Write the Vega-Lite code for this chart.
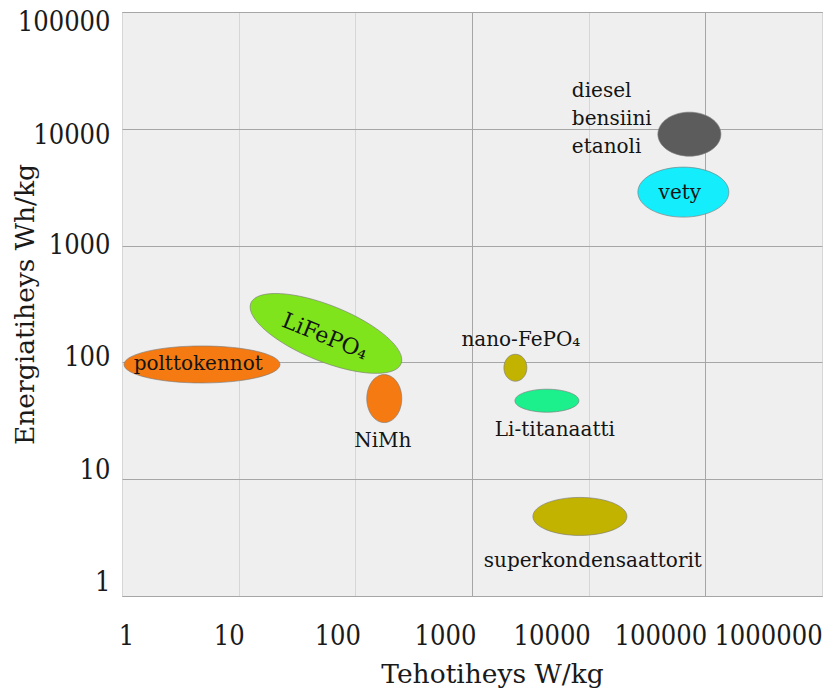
{
  "$schema": "https://vega.github.io/schema/vega-lite/v6.json",
  "width": 700,
  "height": 584,
  "autosize": "none",
  "padding": {"left": 122, "top": 12, "right": 7, "bottom": 95},
  "background": "white",
  "config": {
    "view": {"fill": "#efefef", "stroke": "#8f8f8f", "strokeWidth": 1},
    "font": "DejaVu Serif"
  },
  "datasets": {
    "regions": [
      {"name": "LiFePO4", "power": 56, "energy": 177},
      {"name": "polttokennot", "power": 4.85, "energy": 96},
      {"name": "NiMh", "power": 177, "energy": 49},
      {"name": "nano-FePO4", "power": 2354, "energy": 90},
      {"name": "Li-titanaatti", "power": 4385, "energy": 47},
      {"name": "superkondensaattorit", "power": 8410, "energy": 4.8},
      {"name": "diesel/bensiini/etanoli", "power": 73000, "energy": 9000},
      {"name": "vety", "power": 64800, "energy": 2870}
    ],
    "centerLabels": [
      {"label": "polttokennot", "power": 4.5, "energy": 96},
      {"label": "NiMh", "power": 172, "energy": 21.1},
      {"label": "nano-FePO₄", "power": 2624, "energy": 154.6},
      {"label": "Li-titanaatti", "power": 5130, "energy": 26.2},
      {"label": "superkondensaattorit", "power": 10860, "energy": 2.01},
      {"label": "vety", "power": 60430, "energy": 2812}
    ],
    "leftLabels": [
      {"label": "diesel", "power": 7178, "energy": 18800},
      {"label": "bensiini", "power": 7178, "energy": 10770},
      {"label": "etanoli", "power": 7178, "energy": 6227}
    ],
    "rotLabels": [
      {"label": "LiFePO₄", "power": 54.9, "energy": 167}
    ]
  },
  "encoding": {
    "x": {
      "field": "power", "type": "quantitative",
      "scale": {"type": "log", "domain": [1, 1000000], "nice": false},
      "axis": {
        "values": [1, 10, 100, 1000, 10000, 100000, 1000000],
        "format": "d",
        "title": "Tehotiheys W/kg",
        "titleFont": "DejaVu Serif", "titleFontSize": 26.5, "titleFontWeight": "normal", "titleColor": "#1a1a1a",
        "titleX": 370, "titleY": 86, "titleBaseline": "alphabetic",
        "labelFont": "DejaVu Serif Condensed", "labelFontSize": 27, "labelColor": "#1a1a1a",
        "labelBaseline": "middle", "labelPadding": 40, "labelFlush": false, "labelOverlap": false,
        "labelOffset": {
          "condition": [
            {"test": "datum.value === 1", "value": 4},
            {"test": "datum.value === 10", "value": -10},
            {"test": "datum.value === 100", "value": -18},
            {"test": "datum.value === 1000", "value": -27},
            {"test": "datum.value === 10000", "value": -37},
            {"test": "datum.value === 100000", "value": -45}
          ],
          "value": -54
        },
        "ticks": false, "domain": false,
        "grid": true,
        "gridColor": {"condition": {"test": "datum.value === 1000 || datum.value === 100000", "value": "#a6a6a6"}, "value": "#d6d6d6"}
      }
    },
    "y": {
      "field": "energy", "type": "quantitative",
      "scale": {"type": "log", "domain": [1, 100000], "nice": false},
      "axis": {
        "values": [1, 10, 100, 1000, 10000, 100000],
        "format": "d",
        "title": "Energiatiheys Wh/kg",
        "titleFont": "DejaVu Serif", "titleFontSize": 26.5, "titleFontWeight": "normal", "titleColor": "#1a1a1a",
        "titleX": -89, "titleBaseline": "alphabetic",
        "labelFont": "DejaVu Serif Condensed", "labelFontSize": 27, "labelColor": "#1a1a1a",
        "labelBaseline": "middle", "labelPadding": 12, "labelFlush": false, "labelOverlap": false,
        "labelOffset": {
          "condition": [
            {"test": "datum.value === 100000", "value": 10},
            {"test": "datum.value === 10000", "value": 7},
            {"test": "datum.value === 1000", "value": 0},
            {"test": "datum.value === 100", "value": -5},
            {"test": "datum.value === 10", "value": -9}
          ],
          "value": -14
        },
        "ticks": false, "domain": false,
        "grid": true, "gridColor": "#a6a6a6"
      }
    }
  },
  "layer": [
    {
      "data": {"name": "regions"},
      "mark": {"type": "point", "filled": true, "opacity": 1, "stroke": "#7a7a7a", "strokeWidth": 0.8, "strokeOpacity": 0.8},
      "encoding": {
        "size": {"value": 4},
        "color": {
          "field": "name", "type": "nominal", "legend": null,
          "scale": {
            "domain": ["LiFePO4", "polttokennot", "NiMh", "nano-FePO4", "Li-titanaatti", "superkondensaattorit", "diesel/bensiini/etanoli", "vety"],
            "range": ["#80e41c", "#f57a12", "#f57a12", "#c2b300", "#1bf08d", "#c2b300", "#5c5c5c", "#14edfb"]
          }
        },
        "shape": {
          "field": "name", "type": "nominal", "legend": null,
          "scale": {
            "domain": ["LiFePO4", "polttokennot", "NiMh", "nano-FePO4", "Li-titanaatti", "superkondensaattorit", "diesel/bensiini/etanoli", "vety"],
            "range": [
              "M-75.1,-30.34C-69.31,-44.67,-30.99,-42.72,10.49,-25.96C51.97,-9.2,80.89,16.01,75.1,30.34C69.31,44.67,30.99,42.72,-10.49,25.96C-51.97,9.2,-80.89,-16.01,-75.1,-30.34Z",
              "M-78,0C-78,-10.22,-43.08,-18.5,0,-18.5C43.08,-18.5,78,-10.22,78,0C78,10.22,43.08,18.5,0,18.5C-43.08,18.5,-78,10.22,-78,0Z",
              "M-17.5,0C-17.5,-13.26,-9.67,-24,0,-24C9.67,-24,17.5,-13.26,17.5,0C17.5,13.26,9.67,24,0,24C-9.67,24,-17.5,13.26,-17.5,0Z",
              "M-11.5,0C-11.5,-7.46,-6.35,-13.5,0,-13.5C6.35,-13.5,11.5,-7.46,11.5,0C11.5,7.46,6.35,13.5,0,13.5C-6.35,13.5,-11.5,7.46,-11.5,0Z",
              "M-32,0C-32,-6.35,-17.67,-11.5,0,-11.5C17.67,-11.5,32,-6.35,32,0C32,6.35,17.67,11.5,0,11.5C-17.67,11.5,-32,6.35,-32,0Z",
              "M-47,0C-47,-10.49,-25.96,-19,0,-19C25.96,-19,47,-10.49,47,0C47,10.49,25.96,19,0,19C-25.96,19,-47,10.49,-47,0Z",
              "M-31.5,0C-31.5,-12.15,-17.4,-22,0,-22C17.4,-22,31.5,-12.15,31.5,0C31.5,12.15,17.4,22,0,22C-17.4,22,-31.5,12.15,-31.5,0Z",
              "M-45.5,0C-45.5,-13.81,-25.13,-25,0,-25C25.13,-25,45.5,-13.81,45.5,0C45.5,13.81,25.13,25,0,25C-25.13,25,-45.5,13.81,-45.5,0Z"
            ]
          }
        }
      }
    },
    {
      "data": {"name": "centerLabels"},
      "mark": {"type": "text", "font": "DejaVu Serif", "fontSize": 20, "color": "#141414", "align": "center", "baseline": "middle"},
      "encoding": {"text": {"field": "label", "type": "nominal"}}
    },
    {
      "data": {"name": "leftLabels"},
      "mark": {"type": "text", "font": "DejaVu Serif", "fontSize": 20, "color": "#141414", "align": "left", "baseline": "alphabetic"},
      "encoding": {"text": {"field": "label", "type": "nominal"}}
    },
    {
      "data": {"name": "rotLabels"},
      "mark": {"type": "text", "font": "DejaVu Serif", "fontSize": 22, "color": "#141414", "align": "center", "baseline": "middle", "angle": 22},
      "encoding": {"text": {"field": "label", "type": "nominal"}}
    }
  ]
}
